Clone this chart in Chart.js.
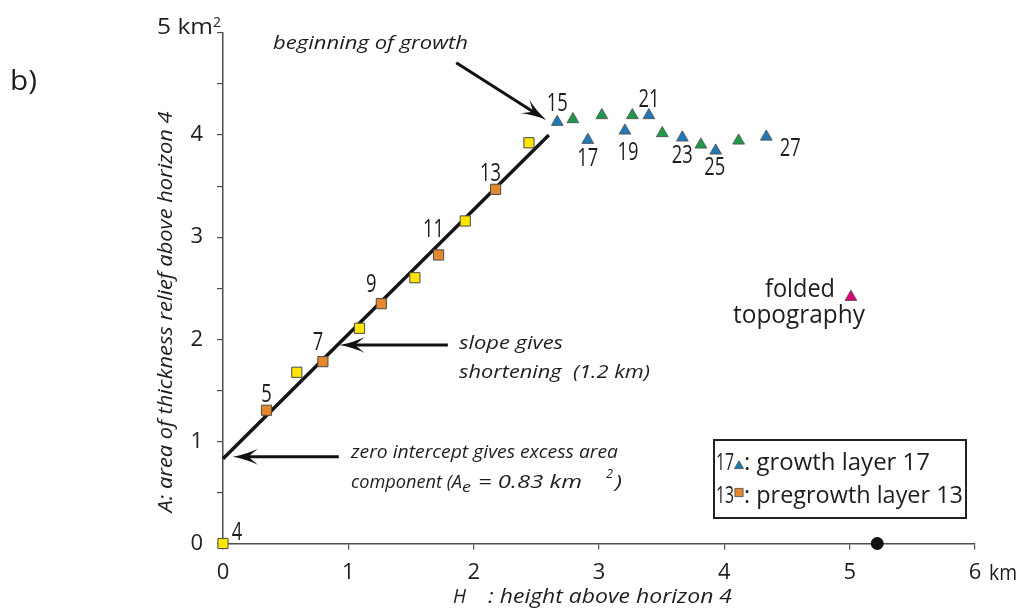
<!DOCTYPE html>
<html>
<head>
<meta charset="utf-8">
<script src="https://cdn.jsdelivr.net/npm/chart.js@4.4.1/dist/chart.umd.min.js"></script>
<style>
  html, body { margin: 0; padding: 0; background: #fff; }
  #wrap { width: 1021px; height: 612px; }
</style>
</head>
<body>
<div id="wrap"><canvas id="c" width="1021" height="612"></canvas></div>
<script>
// Pregrowth layers (squares): H = height above horizon 4 (km), A = area of thickness relief (km²)
const preLayers = [4, 5, 6, 7, 8, 9, 10, 11, 12, 13, 14];
const preH = [0, 0.347, 0.589, 0.797, 1.089, 1.263, 1.531, 1.720, 1.933, 2.175, 2.441];
const preA = [0, 1.305, 1.677, 1.781, 2.108, 2.349, 2.603, 2.826, 3.159, 3.469, 3.925];

// Growth layers (triangles)
const growLayers = [15, 16, 17, 18, 19, 20, 21, 22, 23, 24, 25, 26, 27];
const growH = [2.667, 2.792, 2.911, 3.023, 3.207, 3.266, 3.398, 3.505, 3.665, 3.813, 3.931, 4.114, 4.335];
const growA = [4.128, 4.155, 3.952, 4.194, 4.043, 4.194, 4.194, 4.018, 3.975, 3.906, 3.847, 3.945, 3.984];

// Folded topography and the point on the H axis
const foldedH = [5.01];
const foldedA = [2.414];
const baseH = [5.22];
const baseA = [0];

// Fitted line through the pregrowth layers (intercept 0.83 km², slope 1.2 km)
const fitH = [0, 2.6];
const fitA = [0.83, 4.0];

// Layers that carry a number label
const labelledLayers = [4, 5, 7, 9, 11, 13, 15, 17, 19, 21, 23, 25, 27];

// Tick labels
const xTickLabels = ['0', '1', '2', '3', '4', '5', '6'];
const yTickLabels = ['0', '1', '2', '3', '4'];

const COL = {
  yellow: '#ffe500', orange: '#e3892b', blue: '#2079b4', green: '#1f9a48',
  magenta: '#e2007a', edge: '#4a4a4a', text: '#1e1e1e', axis: '#4d4d4d'
};

function pts(hs, as, keep) {
  const out = [];
  hs.forEach((h, i) => { if (!keep || keep(i)) out.push({ x: h, y: as[i] }); });
  return out;
}

const SANS = '"Open Sans", "Noto Sans", "DejaVu Sans", sans-serif';

// Draw text, optionally squeezed horizontally to a given width
function fitText(ctx, text, x, y, font, width, align) {
  ctx.save();
  ctx.font = font;
  const w = ctx.measureText(text).width;
  const sx = width ? width / w : 1;
  ctx.translate(x, y);
  ctx.scale(sx, 1);
  ctx.textAlign = align || 'left';
  ctx.textBaseline = 'alphabetic';
  ctx.fillText(text, 0, 0);
  ctx.restore();
}

function arrow(ctx, x1, y1, x2, y2, L, W) {
  const dx = x2 - x1, dy = y2 - y1, len = Math.hypot(dx, dy);
  const ux = dx / len, uy = dy / len, nx = -uy, ny = ux;
  ctx.save();
  ctx.strokeStyle = '#111';
  ctx.fillStyle = '#111';
  ctx.lineWidth = 3;
  ctx.beginPath();
  ctx.moveTo(x1, y1);
  ctx.lineTo(x2 - ux * L * 0.6, y2 - uy * L * 0.6);
  ctx.stroke();
  ctx.beginPath();
  ctx.moveTo(x2, y2);
  ctx.quadraticCurveTo(x2 - ux * L * 0.6 + nx * W * 0.35, y2 - uy * L * 0.6 + ny * W * 0.35,
                       x2 - ux * L + nx * W, y2 - uy * L + ny * W);
  ctx.lineTo(x2 - ux * L * 0.62, y2 - uy * L * 0.62);
  ctx.lineTo(x2 - ux * L - nx * W, y2 - uy * L - ny * W);
  ctx.quadraticCurveTo(x2 - ux * L * 0.6 - nx * W * 0.35, y2 - uy * L * 0.6 - ny * W * 0.35, x2, y2);
  ctx.closePath();
  ctx.fill();
  ctx.restore();
}

// Label offsets (px) of the layer numbers from their marks
const labelOffset = {
  4: [14, -13], 5: [0, -17], 7: [-5, -21], 9: [-10, -21], 11: [-5, -27], 13: [-5, -17],
  15: [0, -20], 17: [0, 17], 19: [3, 20], 21: [0, -17], 23: [0, 16], 25: [-1, 15], 27: [24, 10]
};

const annotate = {
  id: 'annotate',
  afterDatasetsDraw(chart) {
    const ctx = chart.ctx;
    const xs = chart.scales.x, ys = chart.scales.y;
    const P = (h, a) => [xs.getPixelForValue(h), ys.getPixelForValue(a)];
    ctx.save();
    ctx.fillStyle = COL.text;

    // layer numbers
    const allLayers = preLayers.concat(growLayers);
    const allH = preH.concat(growH);
    const allA = preA.concat(growA);
    labelledLayers.forEach(n => {
      const i = allLayers.indexOf(n);
      const [px, py] = P(allH[i], allA[i]);
      const off = labelOffset[n];
      const s = String(n);
      fitText(ctx, s, px + off[0], py + off[1] + 9, '25px ' + SANS, s.length * 10.5, 'center');
    });

    // unit labels on the axes
    fitText(ctx, '5 km', 157, 34, '21px ' + SANS, 56);
    fitText(ctx, '2', 213, 27, '14px ' + SANS, 8);
    const [x6] = P(6, 0);
    fitText(ctx, 'km', x6 + 14, 580, '22px ' + SANS, 28);

    // panel letter
    fitText(ctx, 'b)', 10, 90, '27px ' + SANS, 27);

    // axis titles
    ctx.save();
    ctx.translate(172, 312);
    ctx.rotate(-Math.PI / 2);
    fitText(ctx, 'A: area of thickness relief above horizon 4', 0, 0, 'italic 20px ' + SANS, 401, 'center');
    ctx.restore();
    fitText(ctx, 'H', 453, 603, 'italic 20px ' + SANS, 13);
    fitText(ctx, ': height above horizon 4', 488, 603, 'italic 20px ' + SANS, 244);

    // notes and arrows
    const IT = 'italic 19px ' + SANS;
    fitText(ctx, 'beginning of growth', 273, 49, IT, 195);
    let a = P(1.861, 4.709), b = P(2.579, 4.148);
    arrow(ctx, a[0], a[1], b[0], b[1], 25, 8);

    fitText(ctx, 'slope gives', 459, 349, IT, 104);
    fitText(ctx, 'shortening  (1.2 km)', 459, 378, IT, 191);
    a = P(1.794, 1.944); b = P(0.93, 1.944);
    arrow(ctx, a[0], a[1], b[0], b[1], 25, 8);

    fitText(ctx, 'zero intercept gives excess area', 351, 458, IT, 267);
    fitText(ctx, 'component (A', 351, 488, IT, 111);
    fitText(ctx, 'e', 462, 492, 'italic 14px ' + SANS, 9);
    fitText(ctx, '= 0.83 km', 478, 488, IT, 104);
    fitText(ctx, '2', 606, 478, 'italic 13px ' + SANS, 7);
    fitText(ctx, ')', 615, 488, IT, 7);
    a = P(0.924, 0.85); b = P(0.078, 0.85);
    arrow(ctx, a[0], a[1], b[0], b[1], 25, 8);

    // folded topography note
    fitText(ctx, 'folded', 765, 297, '25px ' + SANS, 70);
    fitText(ctx, 'topography', 733, 323, '25px ' + SANS, 132);

    // key box
    ctx.strokeStyle = '#222';
    ctx.lineWidth = 2;
    ctx.strokeRect(714, 440, 252, 78);
    fitText(ctx, '17', 716, 470, '24px ' + SANS, 18);
    fitText(ctx, ': growth layer 17', 744, 470, '24px ' + SANS, 186);
    fitText(ctx, '13', 716, 503, '24px ' + SANS, 18);
    fitText(ctx, ': pregrowth layer 13', 744, 503, '24px ' + SANS, 219);

    // key markers
    ctx.strokeStyle = COL.edge;
    ctx.lineWidth = 0.8;
    ctx.fillStyle = COL.blue;
    Chart.helpers.drawPoint(ctx, { pointStyle: 'triangle', radius: 5.2, borderWidth: 0.8, rotation: 0 }, 739, 466);
    ctx.fillStyle = COL.orange;
    Chart.helpers.drawPoint(ctx, { pointStyle: 'rect', radius: 5.8, borderWidth: 0.8, rotation: 0 }, 739, 492.5);
    ctx.restore();
  }
};

new Chart(document.getElementById('c'), {
  type: 'scatter',
  data: {
    datasets: [
      { label: 'pregrowth (odd)', data: pts(preH, preA, i => preLayers[i] % 2 === 1),
        pointStyle: 'rect', pointRadius: 7.2, backgroundColor: COL.orange, borderColor: COL.edge, borderWidth: 1, clip: false },
      { label: 'pregrowth (even)', data: pts(preH, preA, i => preLayers[i] % 2 === 0),
        pointStyle: 'rect', pointRadius: 7.2, backgroundColor: COL.yellow, borderColor: COL.edge, borderWidth: 1, clip: false },
      { label: 'growth (odd)', data: pts(growH, growA, i => growLayers[i] % 2 === 1),
        pointStyle: 'triangle', pointRadius: 6.8, backgroundColor: COL.blue, borderColor: COL.edge, borderWidth: 0.8, clip: false },
      { label: 'growth (even)', data: pts(growH, growA, i => growLayers[i] % 2 === 0),
        pointStyle: 'triangle', pointRadius: 6.8, backgroundColor: COL.green, borderColor: COL.edge, borderWidth: 0.8, clip: false },
      { label: 'folded topography', data: pts(foldedH, foldedA),
        pointStyle: 'triangle', pointRadius: 6.8, backgroundColor: COL.magenta, borderColor: COL.edge, borderWidth: 0.8, clip: false },
      { label: 'base', data: pts(baseH, baseA),
        pointStyle: 'circle', pointRadius: 6.5, backgroundColor: '#111', borderColor: '#111', borderWidth: 0, clip: false },
      { label: 'fit', type: 'line', data: pts(fitH, fitA), showLine: true,
        borderColor: '#151515', borderWidth: 3.5, pointRadius: 0, fill: false, clip: false }
    ]
  },
  options: {
    responsive: false,
    animation: false,
    events: [],
    layout: { padding: { left: 0, top: 33, right: 46, bottom: 0 } },
    plugins: { legend: { display: false }, tooltip: { enabled: false } },
    scales: {
      x: {
        type: 'linear', min: 0, max: 6,
        afterFit(s) { s.height = 68.5; },
        border: { display: true, color: COL.axis, width: 1.5 },
        grid: { drawOnChartArea: false, drawTicks: true, tickLength: 6, color: COL.axis, lineWidth: 1.2 },
        ticks: {
          stepSize: 1, padding: 10, color: COL.text, maxRotation: 0,
          font: { family: SANS, size: 22 },
          callback: v => Number.isInteger(v) && xTickLabels[v] !== undefined ? xTickLabels[v] : ''
        }
      },
      y: {
        type: 'linear', min: 0, max: 5,
        afterFit(s) { s.width = 223; },
        border: { display: true, color: COL.axis, width: 1.5 },
        grid: { drawOnChartArea: false, drawTicks: true, tickLength: 6, color: COL.axis, lineWidth: 1.2 },
        ticks: {
          stepSize: 0.5, padding: 14, color: COL.text,
          font: { family: SANS, size: 22 },
          callback: v => Number.isInteger(v) && yTickLabels[v] !== undefined ? yTickLabels[v] : ''
        }
      }
    }
  },
  plugins: [annotate]
});
</script>
</body>
</html>
